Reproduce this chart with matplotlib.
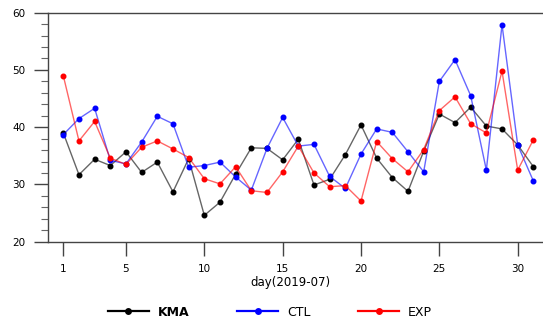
import matplotlib
matplotlib.use("Agg")
import matplotlib.pyplot as plt
from matplotlib.ticker import MultipleLocator, FixedLocator

days = list(range(1, 32))
kma = [39.0, 31.7, 34.4, 33.3, 35.7, 32.1, 33.9, 28.7, 34.5, 24.6,
       26.9, 31.8, 36.4, 36.3, 34.3, 37.9, 29.9, 30.9, 35.2, 40.4,
       34.6, 31.2, 28.8, 35.8, 42.3, 40.8, 43.5, 40.2, 39.7, 36.9, 33.1]
ctl = [38.7, 41.5, 43.3, 34.2, 33.6, 37.4, 41.9, 40.6, 33.0, 33.3,
       33.9, 31.3, 29.0, 36.3, 41.7, 36.7, 37.0, 31.4, 29.3, 35.3,
       39.7, 39.1, 35.7, 32.2, 48.0, 51.8, 45.5, 32.5, 57.9, 36.9, 30.6]
exp = [49.0, 37.6, 41.0, 34.6, 33.5, 36.5, 37.6, 36.2, 34.7, 31.0,
       30.1, 33.1, 28.9, 28.6, 32.2, 36.7, 32.0, 29.6, 29.8, 27.1,
       37.5, 34.5, 32.2, 36.1, 42.9, 45.3, 40.6, 39.0, 49.8, 32.5, 37.8]
labels = ["KMA", "CTL", "EXP"]
colors = ["black", "blue", "red"]
xticks = [1, 5, 10, 15, 20, 25, 30]

fig = plt.figure(figsize=(5.43, 3.22), dpi=100)
ax = fig.add_axes([0.0877, 0.2494, 0.9234, 0.7112])

handles = []
for vals, lab, col in zip([kma, ctl, exp], labels, colors):
    rgb = matplotlib.colors.to_rgb(col)
    h, = ax.plot(days, vals, color=rgb + (0.6,), lw=1.0, marker="o",
                 markersize=3.3, markerfacecolor=col, markeredgecolor=col,
                 label=lab)
    handles.append(h)

ax.set_xlim(0, 32)
ax.set_ylim(20, 60)
ax.xaxis.set_major_locator(FixedLocator(xticks))
ax.yaxis.set_major_locator(MultipleLocator(10))
ax.yaxis.set_minor_locator(MultipleLocator(2))
ax.tick_params(axis="both", which="major", direction="out", length=10,
               width=1.0, color="#444444", labelsize=7.5, pad=6)
ax.tick_params(axis="y", which="minor", direction="out", length=5,
               width=0.8, color="#666666")
for s in ax.spines.values():
    s.set_color("#444444")
    s.set_linewidth(1.0)
ax.set_xlabel("day(2019-07)", fontsize=8.5)
ax.xaxis.set_label_coords((290 - 47.6) / 501.4, -0.15)

leg = fig.legend(handles=handles, labels=labels, loc="center",
                 bbox_to_anchor=(0.497, 0.03), ncol=3, frameon=False,
                 fontsize=9, handlelength=3.3, handletextpad=0.7,
                 columnspacing=3.8, markerscale=1.2)
for h in leg.legend_handles:
    h.set_alpha(1.0)
    h.set_linewidth(1.6)
leg.get_texts()[0].set_fontweight("bold")

fig.savefig("out.png", dpi=100)
